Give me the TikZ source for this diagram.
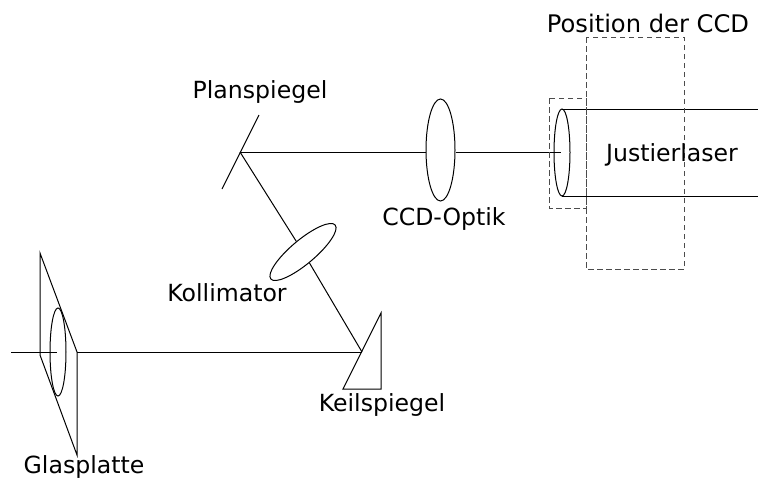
\documentclass[tikz,border=0pt]{standalone}
\usepackage{fontspec}
\setmainfont{DejaVu Sans}
\usetikzlibrary{shapes.geometric}
\tikzset{
  lens/.style={draw, ellipse, inner sep=0pt, minimum width=#1},
  label/.style={inner sep=0pt, font=\fontsize{23.6}{28}\selectfont},
  ccdbox/.style={draw=black!70, line width=1pt, dash pattern=on 5.5pt off 3.5pt}
}
\begin{document}
\begin{tikzpicture}[x=1pt,y=-1pt, line width=1pt]
  \useasboundingbox (0,0) rectangle (758,485);
  \coordinate (Stub)  at (11,352);
  \coordinate (GlasA) at (40,253);
  \coordinate (GlasB) at (40,355);
  \coordinate (GlasC) at (77,455);
  \coordinate (GlasD) at (77,352);
  \coordinate (KeilA) at (381,313);
  \coordinate (KeilB) at (381,389);
  \coordinate (KeilC) at (343,389);
  \coordinate (KeilM) at (362,352);
  \coordinate (PlanA) at (259,115);
  \coordinate (PlanB) at (222,189);
  \coordinate (PlanM) at (240,152);
  \coordinate (LaserA) at (562,109);
  \coordinate (LaserB) at (562,196);
  \coordinate (LaserEndA) at (758,109);
  \coordinate (LaserEndB) at (758,196);
  \coordinate (StubEnd) at (57,352);
  \coordinate (BeamEnd) at (561,152);
  % lenses
  \node[lens=16pt, minimum height=88pt] (glaslens) at (58,352) {};
  \node[lens=29pt, minimum height=102pt] (ccdlens) at (440.5,150) {};
  \node[lens=16pt, minimum height=87pt] (laserlens) at (562,152.5) {};
  \node[lens=24pt, minimum height=84pt, rotate=-50] (kollimator) at (303,252) {};
  % optics
  \draw (GlasA) -- (GlasB) -- (GlasC) -- (GlasD) -- cycle;
  \draw (KeilA) -- (KeilB) -- (KeilC) -- cycle;
  \draw (PlanA) -- (PlanB);
  \draw (LaserEndA) -- (LaserA);
  \draw (LaserEndB) -- (LaserB);
  % beam
  \draw (Stub) -- (StubEnd);
  \draw (GlasD) -- (KeilM);
  \draw (KeilM) -- (kollimator);
  \draw (kollimator) -- (PlanM);
  \draw (PlanM) -- (PlanM -| ccdlens.west);
  \draw (ccdlens.east |- BeamEnd) -- (BeamEnd);
  % dashed boxes
  \draw[ccdbox] (549,98) rectangle (586,208);
  \draw[ccdbox] (586,37) rectangle (684,269);
  % labels
  \node[label, font=\fontsize{24.2}{28}\selectfont] (position) at (648,23) {Position der CCD};
  \node[label] (justier) at (672,155) {Justierlaser};
  \node[label] (plan) at (260,92) {Planspiegel};
  \node[label] (ccdoptik) at (444,219) {CCD-Optik};
  \node[label] (kolli) at (227,293) {Kollimator};
  \node[label] (keil) at (382,405) {Keilspiegel};
  \node[label] (glas) at (84,467) {Glasplatte};
\end{tikzpicture}
\end{document}
